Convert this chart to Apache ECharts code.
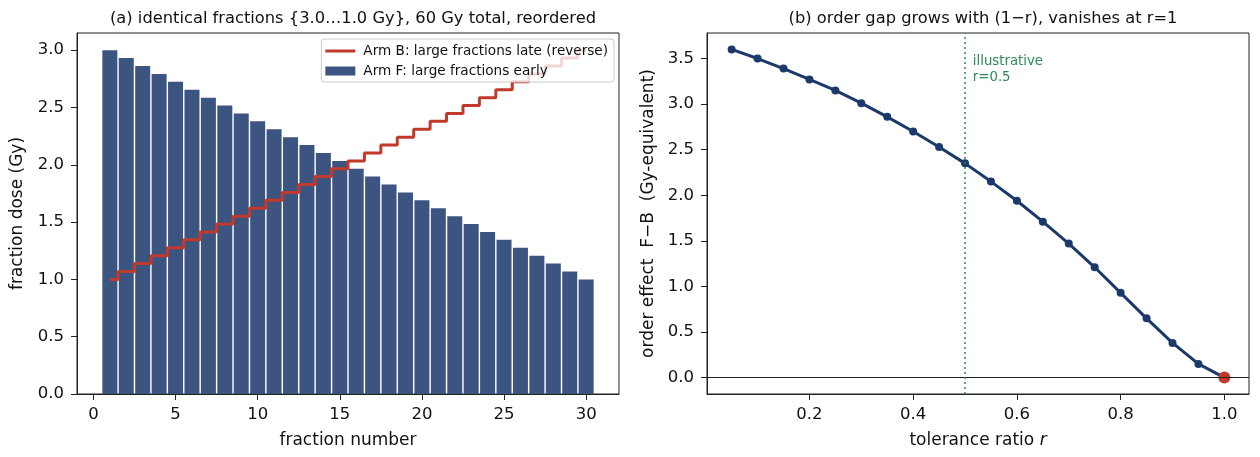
<!DOCTYPE html>
<html lang="en">
<head>
  <meta charset="UTF-8">
  <title>fraction order</title>
  <script src="https://cdn.jsdelivr.net/npm/echarts@6.0.0/dist/echarts.min.js"></script>
  <style>
    body { margin: 0; background: #fff; }
    #chart { width: 1260px; height: 457px; }
  </style>
</head>
<body>
  <div id="chart"></div>
  <script>
    // panel (a): fraction dose per fraction number
    const fractionNumbers = [1,2,3,4,5,6,7,8,9,10,11,12,13,14,15,16,17,18,19,20,21,22,23,24,25,26,27,28,29,30];
    const armF = [3.000,2.931,2.862,2.793,2.724,2.655,2.586,2.517,2.448,2.379,2.310,2.241,2.172,2.103,2.034,
                  1.966,1.897,1.828,1.759,1.690,1.621,1.552,1.483,1.414,1.345,1.276,1.207,1.138,1.069,1.000];
    const armB = [1.000,1.069,1.138,1.207,1.276,1.345,1.414,1.483,1.552,1.621,1.690,1.759,1.828,1.897,1.966,
                  2.034,2.103,2.172,2.241,2.310,2.379,2.448,2.517,2.586,2.655,2.724,2.793,2.862,2.931,3.000];

    // panel (b): order effect vs tolerance ratio
    const ratios = [0.05,0.10,0.15,0.20,0.25,0.30,0.35,0.40,0.45,0.50,0.55,0.60,0.65,0.70,0.75,0.80,0.85,0.90,0.95,1.00];
    const orderEffect = [3.60,3.50,3.39,3.27,3.15,3.01,2.86,2.70,2.53,2.35,2.15,1.94,1.71,1.47,1.21,0.93,0.65,0.38,0.15,0.00];

    const xTicksA = [0,5,10,15,20,25,30];
    const yTicksA = [0,0.5,1.0,1.5,2.0,2.5,3.0];
    const xTicksB = [0.2,0.4,0.6,0.8,1.0];
    const yTicksB = [0,0.5,1.0,1.5,2.0,2.5,3.0,3.5];

    const nameB = 'Arm B: large fractions late (reverse)';
    const nameF = 'Arm F: large fractions early';

    const font = 'DejaVu Sans';
    const axisCol = '#222';
    const red = '#c0392b';

    function valueAxis(extra, ticks, horizontal, fmt) {
      return Object.assign({
        type: 'value',
        nameLocation: 'middle',
        nameTextStyle: { fontFamily: font, fontSize: 17, color: '#111' },
        axisLine: { show: true, onZero: false, lineStyle: { color: axisCol, width: 1 } },
        axisTick: { show: true, length: 6, lineStyle: { color: axisCol }, customValues: ticks },
        axisLabel: {
          fontFamily: font, fontSize: 16.5, color: '#111',
          margin: horizontal ? 12 : 13,
          customValues: ticks,
          formatter: fmt
        },
        splitLine: { show: false }
      }, extra);
    }

    const chart = echarts.init(document.getElementById('chart'));

    const option = {
      backgroundColor: '#fff',
      animation: false,
      title: [
        {
          text: '(a) identical fractions {3.0…1.0 Gy}, 60 Gy total, reordered',
          left: 348, top: 6, textAlign: 'center',
          textStyle: { fontFamily: font, fontSize: 16.3, fontWeight: 'normal', color: '#111' }
        },
        {
          text: '(b) order gap grows with (1\u2212r), vanishes at r=1',
          left: 978, top: 6, textAlign: 'center',
          textStyle: { fontFamily: font, fontSize: 16.3, fontWeight: 'normal', color: '#111' }
        }
      ],
      legend: {
        data: [
          { name: nameB, icon: 'path://M0,0 L30,0 L30,3 L0,3 Z' },
          { name: nameF, icon: 'rect' }
        ],
        orient: 'vertical',
        right: 646, top: 39,
        itemWidth: 30, itemHeight: 9, itemGap: 6,
        padding: [5, 6, 4, 4],
        backgroundColor: 'rgba(255,255,255,0.8)',
        borderColor: '#ccc', borderWidth: 1, borderRadius: 3,
        textStyle: { fontFamily: font, fontSize: 13.6, color: '#111', padding: [0, 0, 0, 3] }
      },
      grid: [
        { left: 77, top: 33, width: 542, height: 361, show: true, borderColor: axisCol, borderWidth: 1 },
        { left: 707, top: 33, width: 542, height: 361, show: true, borderColor: axisCol, borderWidth: 1 }
      ],
      xAxis: [
        valueAxis({ gridIndex: 0, min: -1, max: 32, name: 'fraction number', nameGap: 38 },
                  xTicksA, true, v => String(v)),
        valueAxis({
          gridIndex: 1, min: 0.0025, max: 1.0475, nameGap: 38,
          name: '{n|tolerance ratio }{i|r}',
          nameTextStyle: {
            rich: {
              n: { fontFamily: font, fontSize: 17, color: '#111' },
              i: { fontFamily: font, fontSize: 17, color: '#111', fontStyle: 'italic' }
            }
          }
        }, xTicksB, true, v => v.toFixed(1))
      ],
      yAxis: [
        valueAxis({ gridIndex: 0, min: 0, max: 3.15, name: 'fraction dose (Gy)', nameGap: 51 },
                  yTicksA, false, v => v.toFixed(1)),
        valueAxis({ gridIndex: 1, min: -0.18, max: 3.78, name: 'order effect  F\u2212B  (Gy-equivalent)', nameGap: 50 },
                  yTicksB, false, v => v.toFixed(1))
      ],
      series: [
        {
          name: nameF,
          type: 'bar',
          xAxisIndex: 0, yAxisIndex: 0,
          barWidth: 15,
          itemStyle: { color: '#3c5580' },
          data: fractionNumbers.map((n, i) => [n, armF[i]]),
          z: 2
        },
        {
          name: nameB,
          type: 'line',
          xAxisIndex: 0, yAxisIndex: 0,
          step: 'middle',
          symbol: 'none',
          lineStyle: { color: red, width: 3 },
          itemStyle: { color: red },
          data: fractionNumbers.map((n, i) => [n, armB[i]]),
          z: 3
        },
        {
          name: 'order effect',
          type: 'line',
          xAxisIndex: 1, yAxisIndex: 1,
          symbol: 'circle', symbolSize: 8,
          lineStyle: { color: '#1b3a6b', width: 3 },
          itemStyle: { color: '#1b3a6b' },
          data: ratios.map((r, i) => [r, orderEffect[i]]),
          z: 3,
          markLine: {
            silent: true, symbol: 'none', animation: false,
            label: { show: false },
            data: [
              { yAxis: 0, lineStyle: { color: '#222', width: 1, type: 'solid' } },
              { xAxis: 0.5, lineStyle: { color: '#2e8b57', width: 1.5, type: [2, 3] } }
            ]
          },
          markPoint: {
            silent: true, symbol: 'circle', symbolSize: 0,
            data: [{
              coord: [0.515, 3.38],
              label: {
                show: true, position: 'right', distance: 0,
                formatter: 'illustrative\nr=0.5',
                fontFamily: font, fontSize: 13.3, color: '#2e8b57', lineHeight: 16
              }
            }]
          }
        },
        {
          name: 'r=1',
          type: 'scatter',
          xAxisIndex: 1, yAxisIndex: 1,
          symbolSize: 12,
          itemStyle: { color: red, opacity: 1 },
          data: [[ratios[ratios.length - 1], orderEffect[orderEffect.length - 1]]],
          z: 4
        }
      ]
    };

    chart.setOption(option);
  </script>
</body>
</html>
